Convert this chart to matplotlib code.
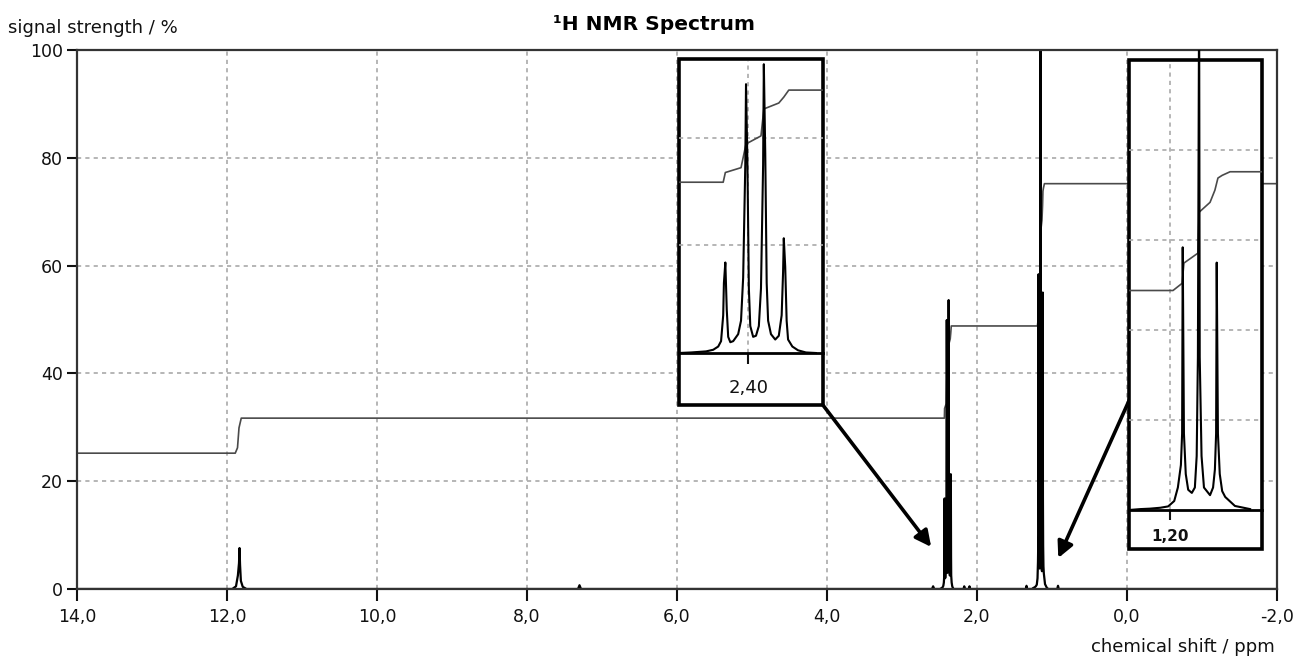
"""1H NMR spectrum with two zoomed insets of the quartet and triplet."""
from __future__ import annotations

import matplotlib

matplotlib.use("Agg")
import matplotlib.pyplot as plt
import numpy as np
from matplotlib.patches import Rectangle


W, H = 1308, 659

# spectrum trace: chemical shift (ppm) / signal strength (%)
SPEC_PPM = [
    14.0, 11.93, 11.88, 11.855, 11.84, 11.833, 11.826, 11.815, 11.79, 11.74,
    7.32, 7.30, 7.28, 2.60, 2.585, 2.57,
    2.497, 2.480, 2.459, 2.449, 2.442, 2.438, 2.435, 2.434, 2.432, 2.430, 2.428, 2.425, 2.421,
    2.414, 2.410, 2.407, 2.404, 2.403, 2.401, 2.399, 2.397, 2.393, 2.389, 2.385, 2.382, 2.379,
    2.378, 2.376, 2.374, 2.372, 2.368, 2.362, 2.357, 2.353, 2.351, 2.350, 2.348, 2.346, 2.344,
    2.338, 2.330, 2.319, 2.305,
    2.18, 2.17, 2.16, 2.11, 2.10, 2.09, 1.35, 1.34, 1.33,
    1.2675, 1.249, 1.233, 1.216, 1.203, 1.193, 1.187, 1.182, 1.180, 1.179, 1.177, 1.174, 1.170,
    1.164, 1.159, 1.156, 1.154, 1.152, 1.151, 1.148, 1.144, 1.134, 1.129, 1.126, 1.124, 1.123,
    1.121, 1.118, 1.114, 1.109, 1.093, 1.068, 1.048,
    0.93, 0.92, 0.91, -2.0,
]
SPEC_PCT = [
    0, 0, 0.5, 2.5, 4.8, 7.6, 4.5, 1.5, 0.4, 0,
    0, 0.7, 0, 0, 0.5, 0,
    0, 0.1, 0.3, 0.6, 1.2, 2.2, 7.0, 13.0, 16.8, 8.0, 3.0, 2.0, 2.2,
    3.5, 6.0, 14.0, 35.0, 49.9, 35.0, 12.0, 5.0, 3.0, 3.2, 5.0, 12.0, 35.0,
    53.6, 37.0, 13.0, 6.0, 3.5, 2.5, 3.2, 7.0, 15.0, 21.3, 16.0, 6.0, 2.5,
    1.2, 0.5, 0.1, 0,
    0, 0.5, 0, 0, 0.5, 0, 0, 0.6, 0,
    0, 0.2, 0.3, 0.5, 0.8, 2.0, 5.0, 10.0, 17.0, 58.4, 17.0, 8.0, 4.5,
    3.8, 5.0, 12.0, 34.0, 116.0, 34.0, 12.0, 5.0, 3.3, 5.0, 9.0, 17.0, 55.0,
    17.0, 8.0, 4.2, 2.9, 0.9, 0.2, 0,
    0, 0.6, 0, 0,
]

# integral curve
INT_PPM = [
    14.0, 11.89, 11.86, 11.84, 11.81,
    2.435, 2.432, 2.410, 2.403, 2.382, 2.378, 2.357, 2.350, 2.343,
    1.195, 1.180, 1.177, 1.154, 1.152, 1.134, 1.126, 1.121, 1.114, 1.101, -2.0,
]
INT_PCT = [
    25.2, 25.2, 26.2, 29.9, 31.7,
    31.7, 33.5, 34.4, 38.8, 40.3, 45.3, 46.4, 47.5, 48.8,
    48.8, 50.4, 54.9, 57.1, 66.2, 68.4, 71.1, 73.8, 74.4, 75.2, 75.2,
]

X_TICKS = [14.0, 12.0, 10.0, 8.0, 6.0, 4.0, 2.0, 0.0, -2.0]
Y_TICKS = [0, 20, 40, 60, 80, 100]

GRID = dict(color="#a9a9a9", linestyle=(0, (2.5, 2.5)), linewidth=1.2)
SPINE = "#333333"


def _fx(x: float) -> float:
    return x / W


def _fy(y: float) -> float:
    return 1 - y / H


def _inset(fig, main_ax, box, base_y, xlim, ylim, yticks, tick, label, tick_len, pad, size, weight):
    x0, y0, x1, y1 = box
    fig.add_artist(Rectangle((_fx(x0), _fy(y1)), (x1 - x0) / W, (y1 - y0) / H, transform=fig.transFigure,
                             facecolor="white", edgecolor="black", linewidth=2.6, zorder=1))
    axis = fig.add_axes([_fx(x0), _fy(base_y), (x1 - x0) / W, (base_y - y0 - 2) / H], zorder=2)
    axis.set_facecolor("none")
    axis.set_xlim(*xlim)
    axis.set_ylim(*ylim)
    for side in ("top", "left", "right"):
        axis.spines[side].set_visible(False)
    axis.spines["bottom"].set_color("black")
    axis.spines["bottom"].set_linewidth(2.0)
    axis.set_xticks([tick], [label])
    axis.set_yticks(yticks)
    axis.tick_params(axis="y", length=0, labelleft=False)
    axis.tick_params(axis="x", direction="out", length=tick_len, width=1.5, pad=pad, labelsize=size, colors="#111111")
    for text in axis.get_xticklabels():
        text.set_fontweight(weight)
    axis.grid(True, **GRID)
    axis.plot(INT_PPM, INT_PCT, color="#4a4a4a", linewidth=1.2)
    ppm = np.array(SPEC_PPM)
    pct = np.array(SPEC_PCT)
    inside = (ppm <= xlim[0]) & (ppm >= xlim[1])
    (line,) = axis.plot(ppm[inside], pct[inside], color="black", linewidth=1.5)
    # tall peak runs past the inset frame, only the main plot area clips it
    line.set_clip_path(main_ax.patch)
    return axis


def main() -> None:
    plt.rcParams["font.family"] = ["DejaVu Sans"]
    fig = plt.figure(figsize=(W / 100, H / 100), dpi=100)
    ax = fig.add_axes([_fx(77), _fy(589), (1277 - 77) / W, (589 - 50) / H])
    ax.set_xlim(14, -2)
    ax.set_ylim(0, 100)
    ax.set_xticks(X_TICKS, [f"{v:.1f}".replace(".", ",") for v in X_TICKS])
    ax.set_yticks(Y_TICKS, [str(v) for v in Y_TICKS])
    ax.tick_params(axis="x", length=8.5, width=1.5, pad=5, labelsize=12.5, colors="#111111")
    ax.tick_params(axis="y", length=7, width=1.5, pad=3, labelsize=12.5, colors="#111111")
    ax.grid(True, **GRID)
    for spine in ax.spines.values():
        spine.set_color(SPINE)
        spine.set_linewidth(1.6)
    ax.plot(INT_PPM, INT_PCT, color="#4a4a4a", linewidth=1.2)
    ax.plot(SPEC_PPM, SPEC_PCT, color="black", linewidth=1.6)

    # zoom insets (pixel boxes of the reference layout)
    _inset(fig, ax, (679, 59, 823, 405), 353, (2.497, 2.295), (0, 54.2), [20, 40], 2.40, "2,40", 8, 11, 13, "normal")
    _inset(fig, ax, (1129, 60, 1262, 549), 510, (1.2675, 1.0484), (0, 99.6), [20, 40, 60, 80], 1.20, "1,20", 7, 7, 11, "bold")

    arrow = dict(arrowstyle="-|>", color="black", linewidth=2.6, mutation_scale=24, shrinkA=0, shrinkB=0)
    ax.annotate("", xy=(2.611, 7.8), xytext=(4.053, 34.1), arrowprops=arrow)
    ax.annotate("", xy=(0.916, 5.75), xytext=(-0.032, 35.1), arrowprops=arrow)

    fig.text(0.5, _fy(24), "\u00b9H NMR Spectrum", ha="center", va="center", fontsize=14.5, fontweight="bold")
    fig.text(_fx(8), _fy(28), "signal strength / %", ha="left", va="center", fontsize=13, color="#111111")
    fig.text(_fx(1275), _fy(647), "chemical shift / ppm", ha="right", va="center", fontsize=13, color="#111111")
    fig.savefig("out.png", dpi=100)
    plt.close(fig)


if __name__ == "__main__":
    main()
